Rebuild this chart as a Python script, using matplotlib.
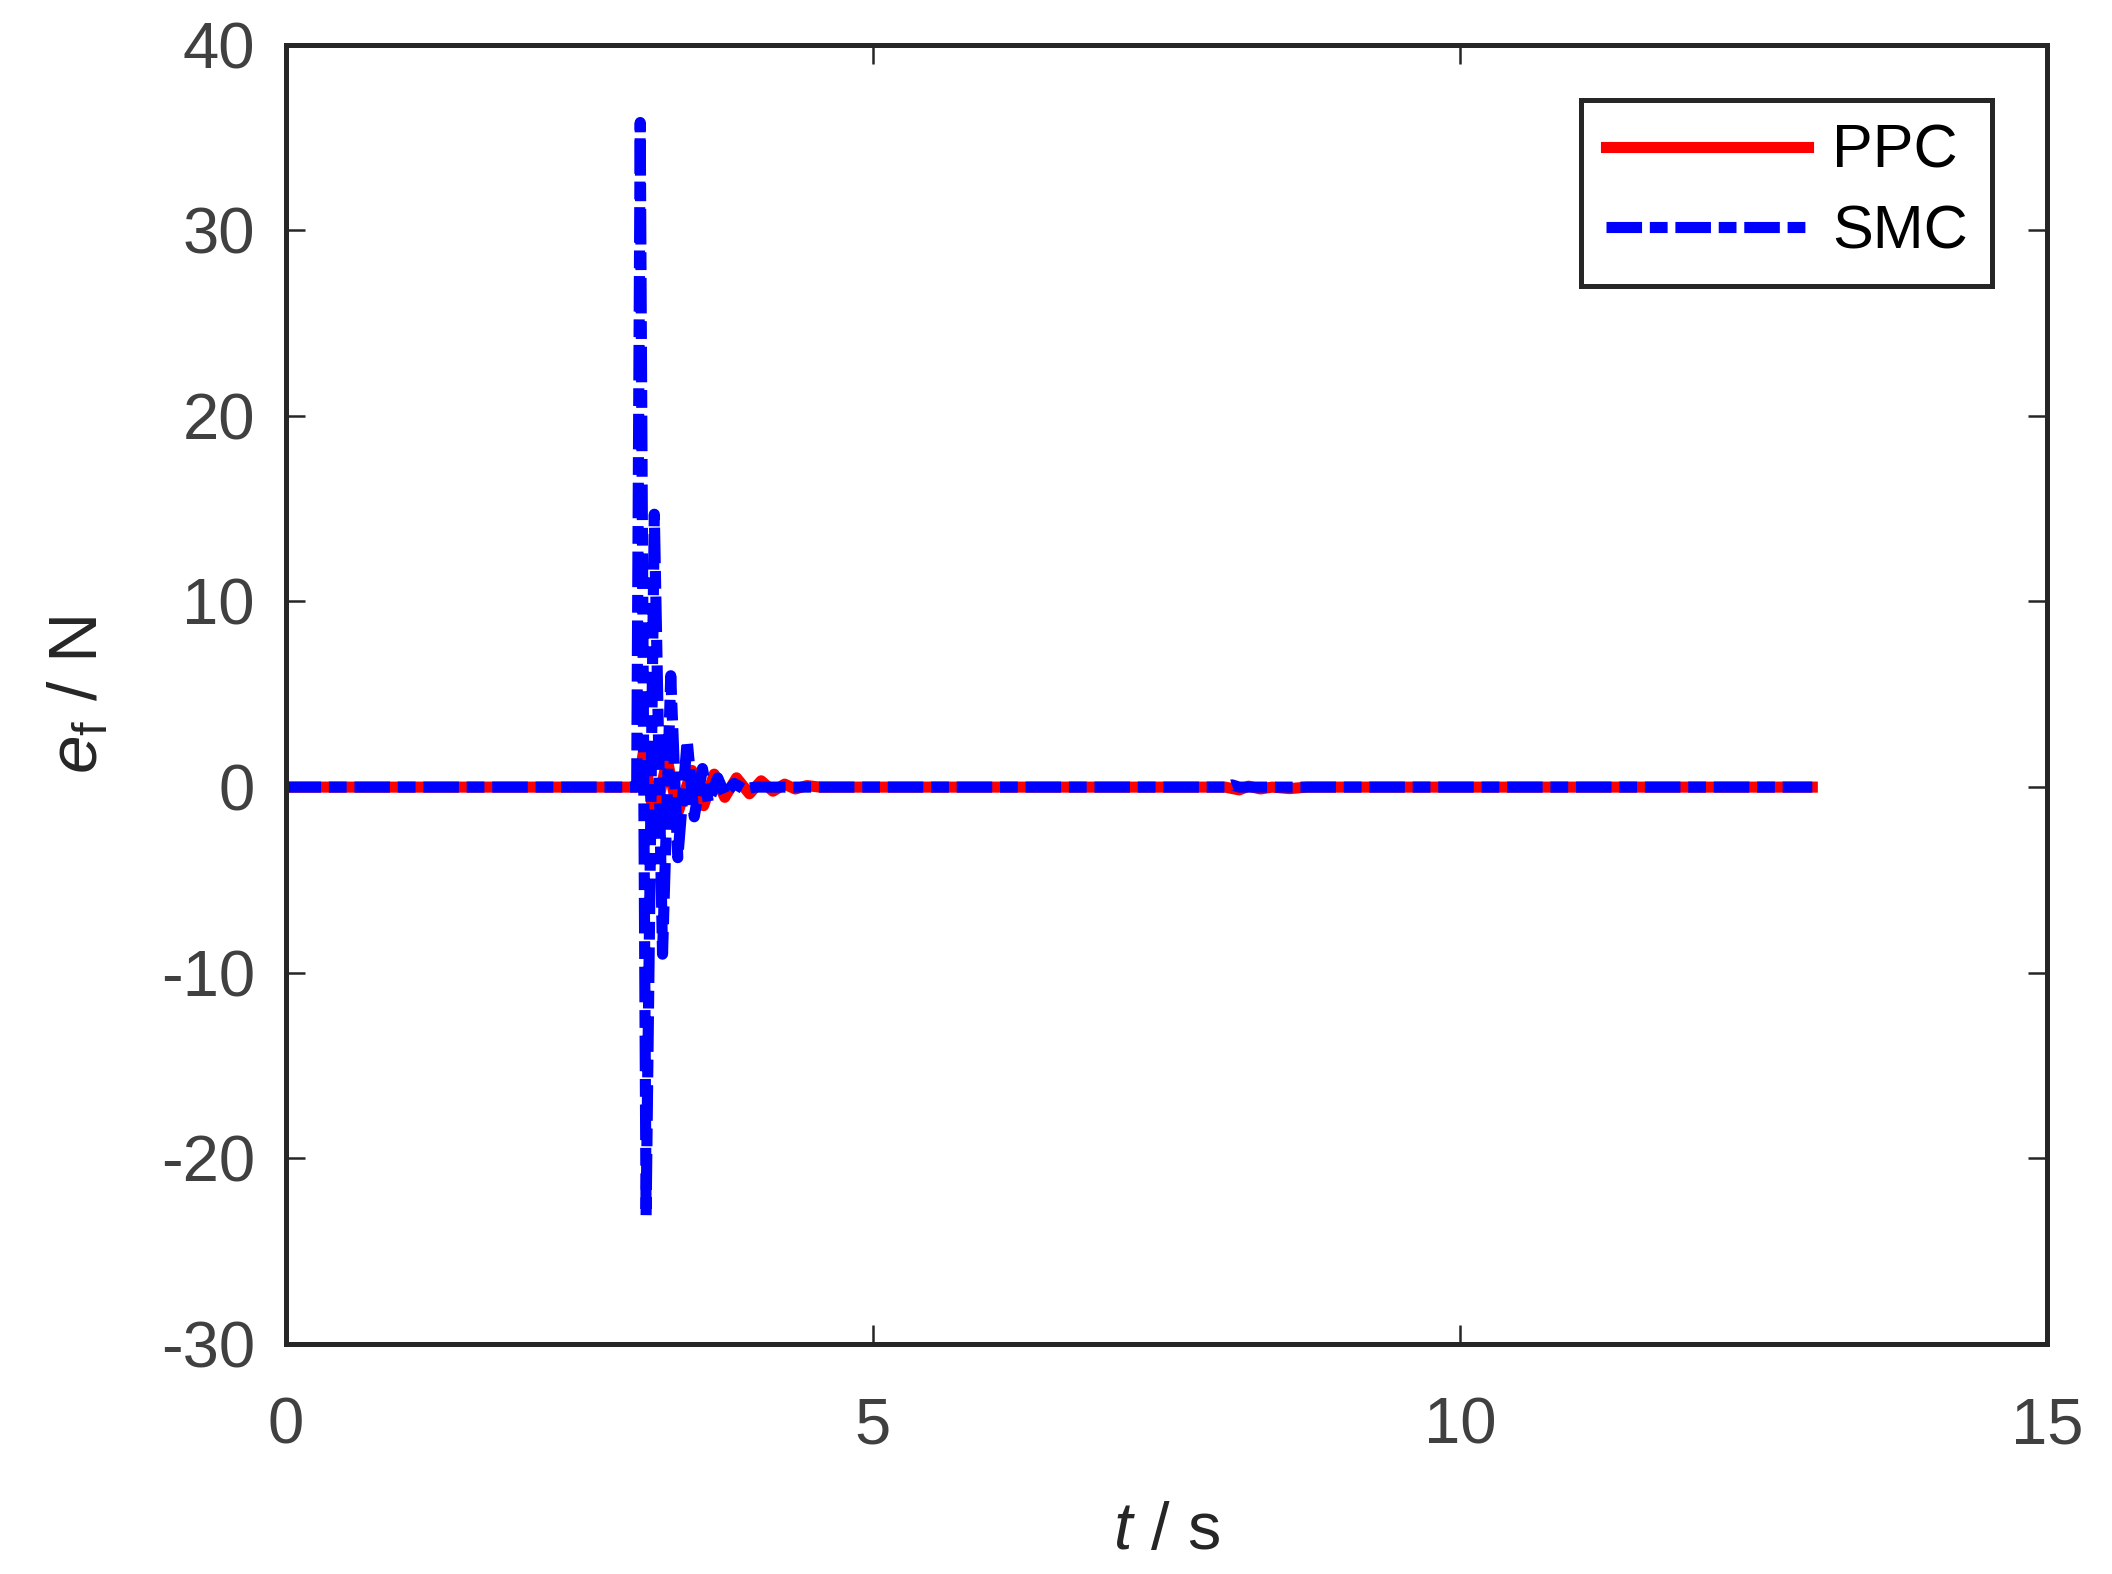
import matplotlib
matplotlib.use("Agg")
import matplotlib.pyplot as plt

# ----------------------------
# Data
# ----------------------------
t_ppc = [0, 3.0, 3.05, 3.14, 3.25, 3.34, 3.46, 3.56, 3.65, 3.74, 3.84,
         3.95, 4.05, 4.15, 4.25, 4.34, 4.44, 4.55, 8.0, 8.12, 8.2, 8.3,
         8.4, 8.55, 8.7, 13.0]
e_ppc = [0, 0, 2.0, -1.8, 1.5, -1.4, 0.9, -1.0, 0.7, -0.55, 0.5,
         -0.36, 0.34, -0.22, 0.16, -0.1, 0.08, 0, 0, -0.15, 0.05, -0.1,
         0, -0.08, 0, 0]

t_smc = [0, 2.99, 3.02, 3.07, 3.14, 3.21, 3.28, 3.34, 3.42, 3.48, 3.55,
         3.60, 3.68, 3.74, 3.82, 3.90, 4.0, 8.0, 8.06, 8.12, 13.0]
e_smc = [0, 0, 35.8, -23.1, 14.7, -9.0, 6.0, -3.8, 2.5, -1.6, 1.0,
         -0.8, 0.5, -0.4, 0.2, -0.1, 0, 0, 0.12, 0, 0]

X_TICKS = [0, 5, 10, 15]
Y_TICKS = [-30, -20, -10, 0, 10, 20, 30, 40]

# ----------------------------
# Style
# ----------------------------
plt.rcParams["font.family"] = ["Liberation Sans", "DejaVu Sans"]
plt.rcParams["mathtext.fontset"] = "custom"
plt.rcParams["mathtext.rm"] = "Liberation Sans"
plt.rcParams["mathtext.it"] = "Liberation Sans:italic"
plt.rcParams["axes.unicode_minus"] = False

AX_COLOR = "#262626"
TICK_COLOR = "#404040"

fig = plt.figure(figsize=(10.56, 7.87), dpi=200)
ax = fig.add_axes([0.1352, 0.1461, 0.8341, 0.8256])

ax.plot(t_ppc, e_ppc, color="red", lw=4, label="PPC")
ax.plot(t_smc, e_smc, color="blue", lw=4, dashes=(3.2, 0.7, 1.6, 0.7),
        label="SMC")

ax.set_xlim(0, 15)
ax.set_ylim(-30, 40)
ax.set_xticks(X_TICKS)
ax.set_yticks(Y_TICKS)

for sp in ax.spines.values():
    sp.set_linewidth(1.8)
    sp.set_color(AX_COLOR)

ax.tick_params(direction="in", length=7, width=0.9, color=AX_COLOR,
               top=True, right=True, labelsize=23.5, labelcolor=TICK_COLOR)
ax.tick_params(axis="x", pad=19)
ax.tick_params(axis="y", pad=11)

ax.set_xlabel(r"$\mathit{t}$ / s", fontsize=24, color=AX_COLOR, labelpad=16)
ax.set_ylabel(r"$\mathit{e}_\mathrm{f}$ / N", fontsize=25, color=AX_COLOR,
              labelpad=18)

leg = ax.legend(loc="upper right", fontsize=22, handlelength=3.3,
                handletextpad=0.4, borderaxespad=0.9, labelspacing=0.38,
                borderpad=0.4, fancybox=False, framealpha=1,
                edgecolor=AX_COLOR)
leg.get_frame().set_linewidth(1.8)

fig.savefig("out.png", dpi=200)
